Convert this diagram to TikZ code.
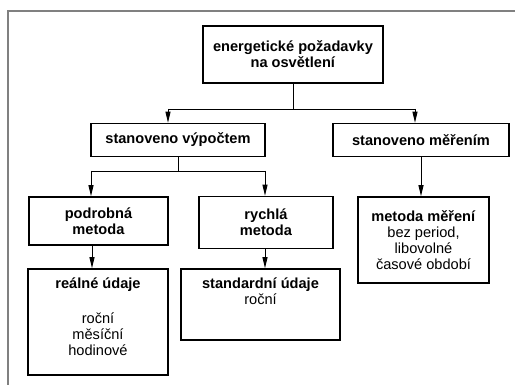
\documentclass[tikz,border=0pt]{standalone}
\usepackage{fontspec}
\setmainfont{Liberation Sans}
\usetikzlibrary{arrows.meta}
\begin{document}
\begin{tikzpicture}[x=1pt,y=-1pt,
  box/.style={draw=black, line width=1.6pt, inner sep=0pt, align=center, font=\fontsize{14.6}{16}\selectfont},
  txt/.style={inner sep=0pt, align=center, font=\fontsize{14.6}{16}\selectfont},
  conn/.style={draw=black, line width=0.9pt},
  arr/.style={conn, -{Triangle[length=11pt,width=5pt]}}]
\useasboundingbox (0,0) rectangle (515,385);
\draw[line width=1.6pt, color=black!50] (8,385) -- (8,11) -- (516,11);
% boxes
\node[box, minimum width=180, minimum height=57] (top) at (293,54.5) {\textbf{energetické požadavky}\\\textbf{na osvětlení}};
\node[box, minimum width=174, minimum height=33] (calc) at (178,140) {\textbf{stanoveno výpočtem}};
\node[box, minimum width=176, minimum height=33] (meas) at (421,140) {\textbf{stanoveno měřením}};
\node[box, minimum width=139, minimum height=48] (det) at (98.5,221) {\textbf{podrobná}\\\textbf{metoda}};
\node[box, minimum width=134, minimum height=52] (fast) at (266,222.5) {\textbf{rychlá}\\\textbf{metoda}};
\node[box, minimum width=131, minimum height=86] (mm) at (423.5,240) {\textbf{metoda měření}\\bez period,\\libovolné\\časové období};
\node[box, minimum width=140, minimum height=106] (real) at (98,322) {};
\node[txt, anchor=north] (realt) at ([yshift=-9pt]real.north) {\textbf{reálné údaje}\\[19pt]roční\\měsíční\\hodinové};
\node[box, minimum width=159, minimum height=71] (std) at (260.5,304.5) {};
\node[txt, anchor=north] (stdt) at ([yshift=-9pt]std.north) {\textbf{standardní údaje}\\roční};
% connectors
\coordinate (j1) at (top.south |- 0,109);
\coordinate (a1) at (168,109);
\coordinate (a2) at (415,109);
\draw[conn] (top.south) -- (j1);
\draw[conn] (a1) -- (a2);
\draw[arr] (a1) -- (a1 |- calc.north);
\draw[arr] (a2) -- (a2 |- meas.north);
\coordinate (j2) at (calc.south |- 0,171);
\coordinate (b1) at (91,171);
\coordinate (b2) at (265,171);
\draw[conn] (calc.south) -- (j2);
\draw[conn] (b1) -- (b2);
\draw[arr] (b1) -- (b1 |- det.north);
\draw[arr] (b2) -- (b2 |- fast.north);
\draw[arr] (meas.south) -- (meas.south |- mm.north);
\coordinate (c1) at (92,0);
\draw[arr] (c1 |- det.south) -- (c1 |- real.north);
\coordinate (c2) at (265,0);
\draw[arr] (c2 |- fast.south) -- (c2 |- std.north);
\end{tikzpicture}
\end{document}
